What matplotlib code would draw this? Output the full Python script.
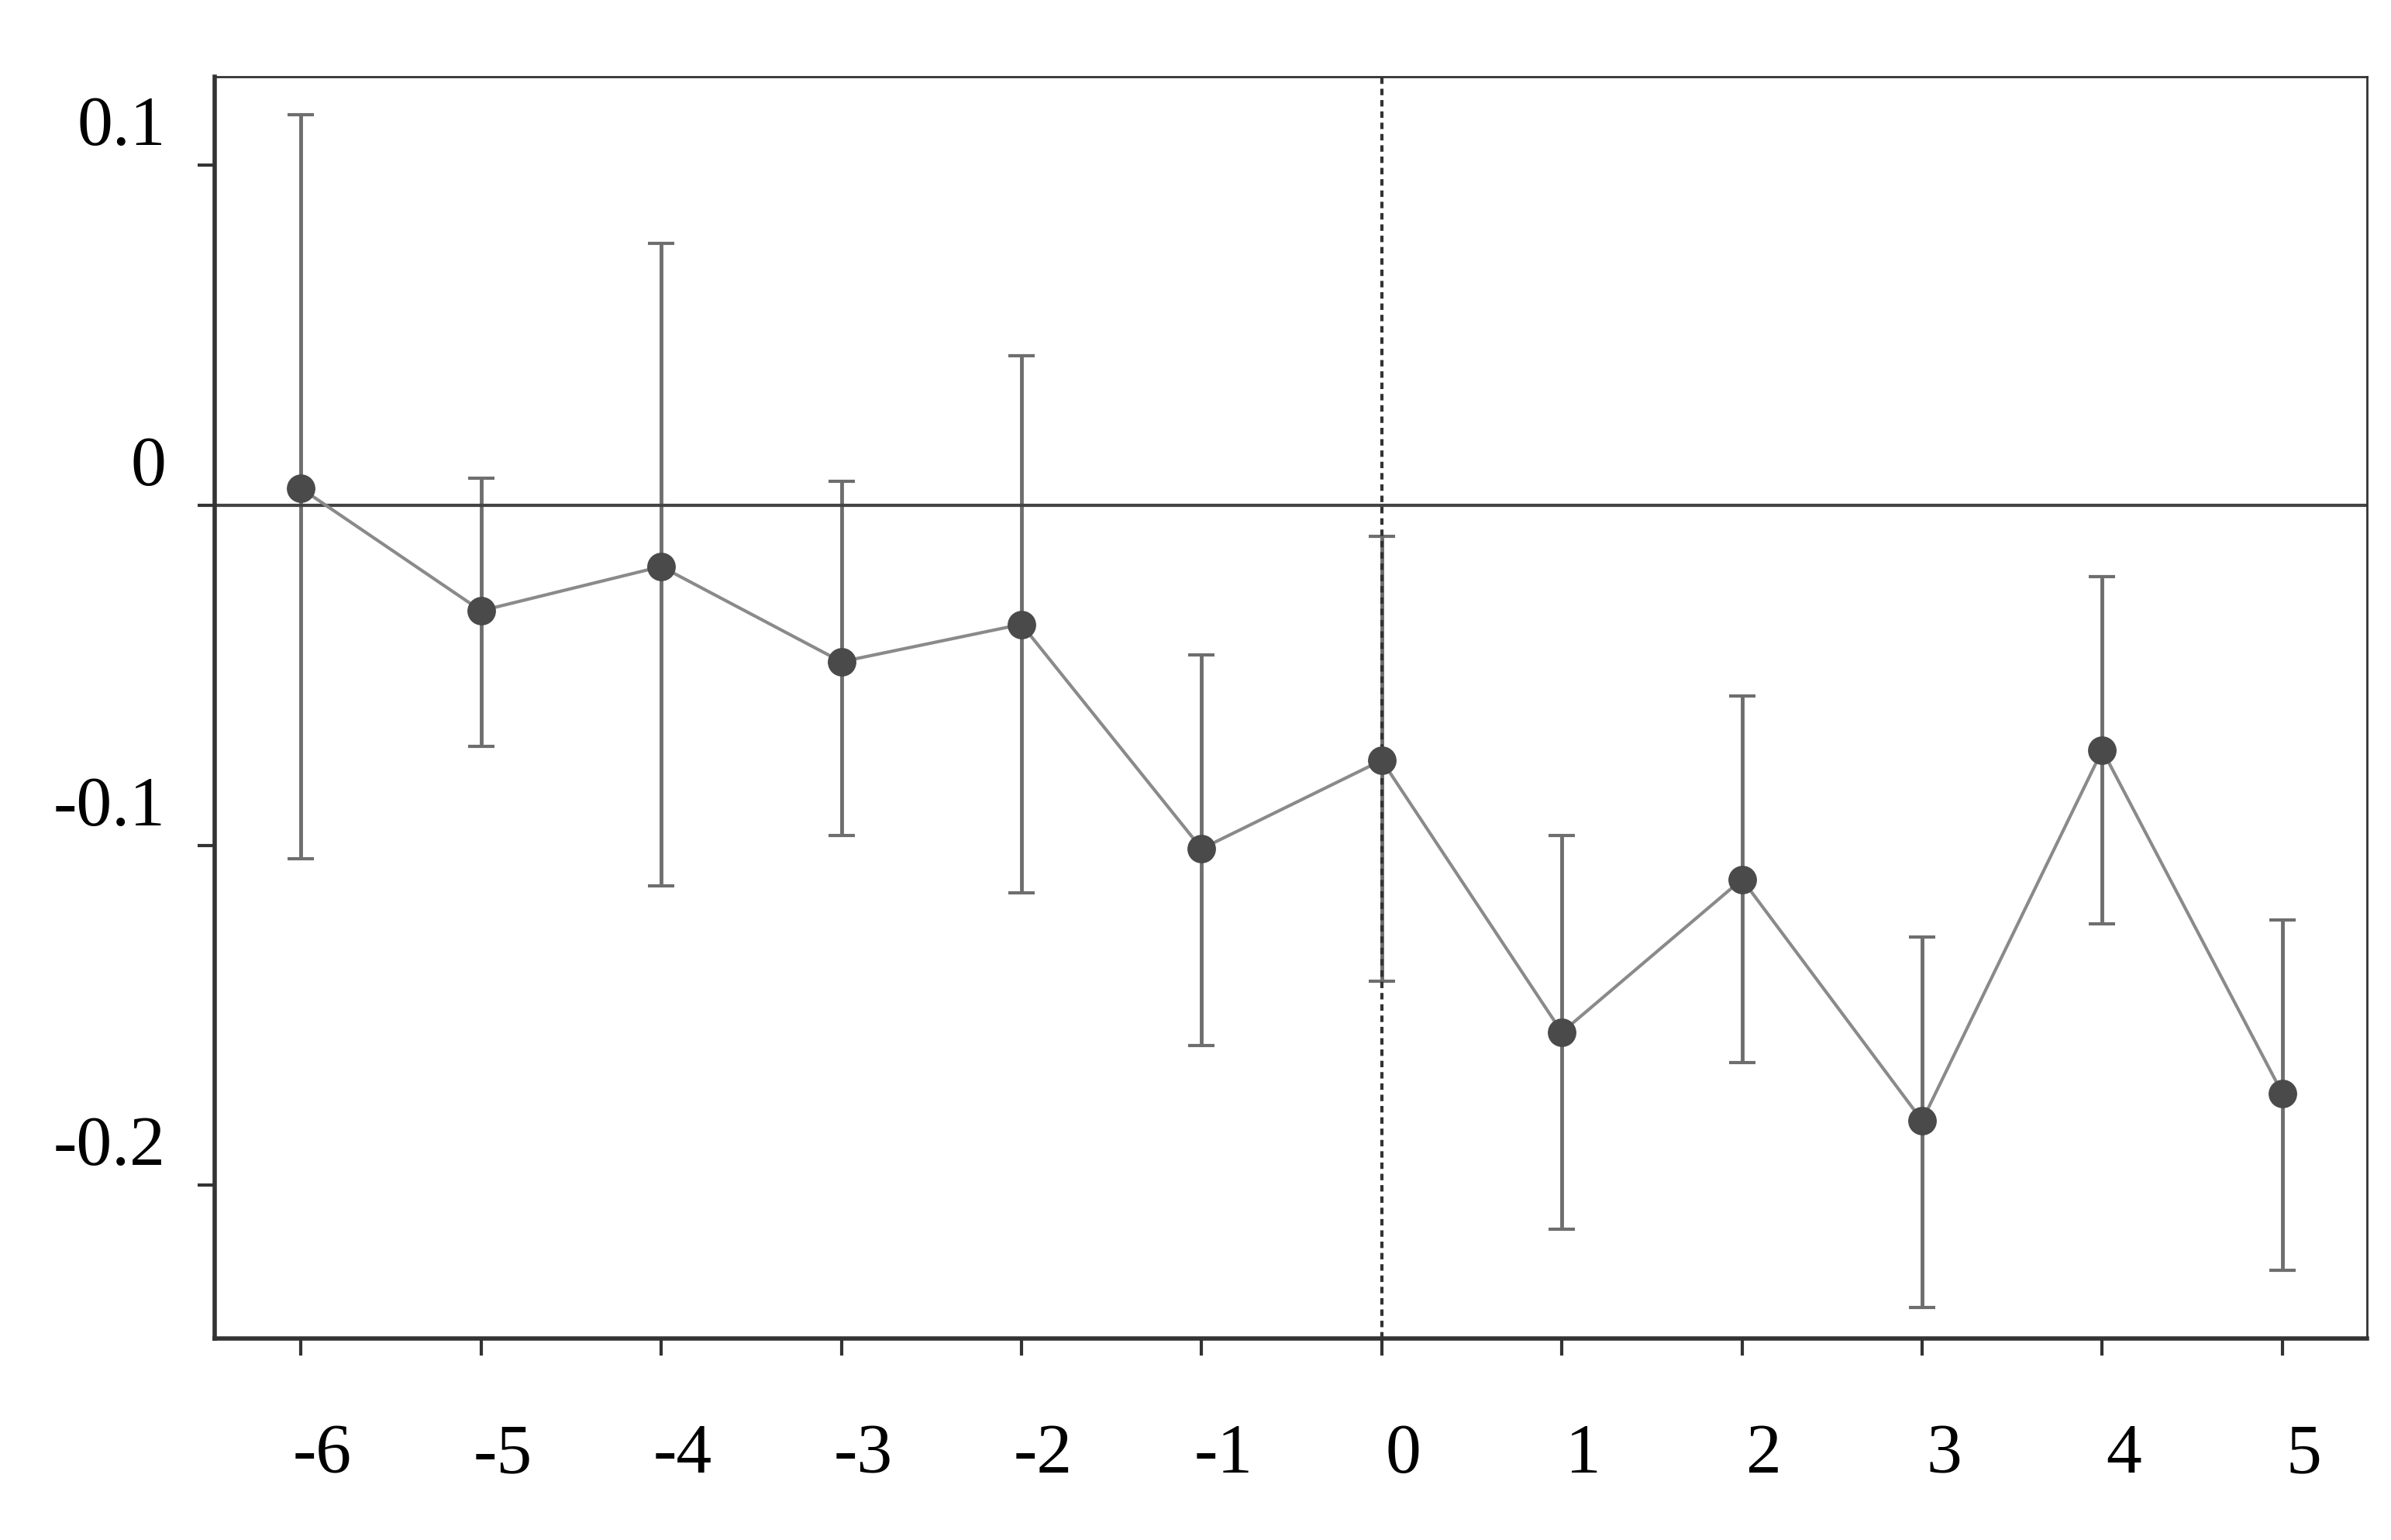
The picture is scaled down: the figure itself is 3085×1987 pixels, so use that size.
import matplotlib.pyplot as plt

periods = [-6, -5, -4, -3, -2, -1, 0, 1, 2, 3, 4, 5]
coef = [0.005, -0.031, -0.018, -0.046, -0.035, -0.101, -0.075, -0.155, -0.110, -0.181, -0.072, -0.173]
upper = [0.115, 0.008, 0.077, 0.007, 0.044, -0.044, -0.009, -0.097, -0.056, -0.127, -0.021, -0.122]
lower = [-0.104, -0.071, -0.112, -0.097, -0.114, -0.159, -0.140, -0.213, -0.164, -0.236, -0.123, -0.225]
yticks = [0.1, 0, -0.1, -0.2]
ylabels = ["0.1", "0", "-0.1", "-0.2"]

plt.rcParams['font.family'] = ['Liberation Serif', 'DejaVu Serif']
fig = plt.figure(figsize=(30.85, 19.87), dpi=100)
ax = fig.add_axes([0.0897, 0.131, 0.9003, 0.819])

err_lo = [c - l for c, l in zip(coef, lower)]
err_hi = [u - c for c, u in zip(coef, upper)]
ax.errorbar(periods, coef, yerr=[err_lo, err_hi], fmt='none', ecolor='#6e6e6e',
            elinewidth=3.5, capsize=12, capthick=3)
ax.plot(periods, coef, color='#8a8a8a', lw=3, zorder=3)
ax.scatter(periods, coef, s=650, color='#4a4a4a', zorder=4)
ax.axhline(0, color='#444444', lw=3)
ax.axvline(0, color='#333333', lw=3, ls=(0, (2, 1.5)))

ax.set_xlim(-6.48, 5.47)
ax.set_ylim(-0.245, 0.126)
ax.set_xticks(periods)
ax.set_yticks(yticks)
ax.set_xticklabels([])
ax.set_yticklabels([])
ax.tick_params(axis='both', length=16, width=3, color='#333333')
for s in ax.spines.values():
    s.set_linewidth(2)
    s.set_color('#333333')
ax.spines['left'].set_linewidth(4)
ax.spines['bottom'].set_linewidth(4)

for p in periods:
    ax.text(p + 0.12, -0.2795, str(p), ha='center', va='center', fontsize=66,
            clip_on=False)
for v, lab in zip(yticks, ylabels):
    ax.text(-6.75, v + 0.011, lab, ha='right', va='center', fontsize=66, clip_on=False)

fig.savefig('out.png', dpi=100)
